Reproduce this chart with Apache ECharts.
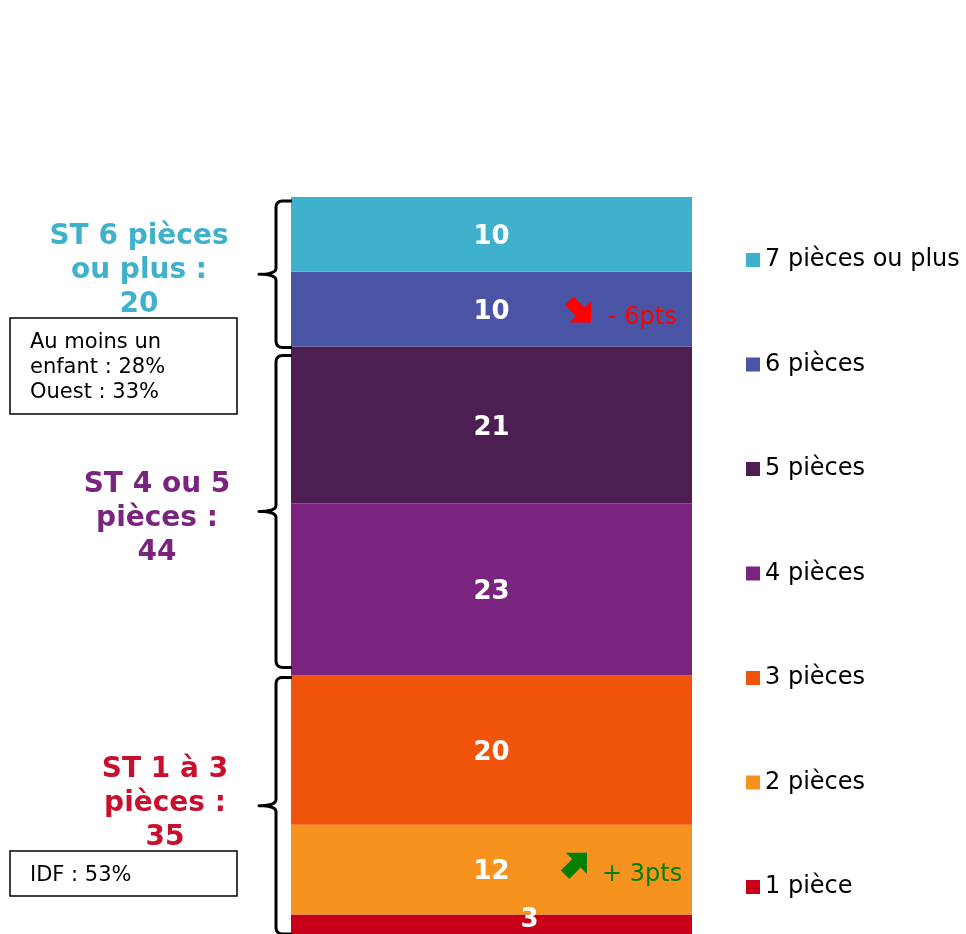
<!DOCTYPE html>
<html>
<head>
<meta charset="utf-8">
<script src="https://cdn.jsdelivr.net/npm/echarts@6/dist/echarts.min.js"></script>
<style>
  html, body { margin: 0; padding: 0; background: #fff; }
  #chart { width: 966px; height: 934px; }
</style>
</head>
<body>
<div id="chart"></div>
<script>
// données du graphique (empilé, du bas vers le haut)
const categories = ['Total'];
const seriesNames = ['1 pièce', '2 pièces', '3 pièces', '4 pièces', '5 pièces', '6 pièces', '7 pièces ou plus'];
const values = [3, 12, 20, 23, 21, 10, 10];
const colors = ['#c9001a', '#f6921e', '#f0540a', '#7a247f', '#4c1e51', '#4955a4', '#3fb1cc'];

// sous-totaux
const groupLabels = ['ST 1 à 3\npièces :\n35', 'ST 4 ou 5\npièces :\n44', 'ST 6 pièces\nou plus :\n20'];
const groupColors = ['#c8102e', '#7a247f', '#3fb1cc'];
const groupRanges = [[0, 3], [3, 5], [5, 7]]; // indices des séries

// évolutions
const evolutions = [
  { serie: 5, text: '- 6pts', color: '#ff0000', dir: 'down' },
  { serie: 1, text: '+ 3pts', color: '#008000', dir: 'up' }
];

// encadrés
const notes = [
  { serie: 6, lines: ['Au moins un', 'enfant : 28%', 'Ouest : 33%'] },
  { serie: 0, lines: ['IDF : 53%'] }
];

const font = "'DejaVu Sans', Verdana, sans-serif";
const myChart = echarts.init(document.getElementById('chart'));

const series = seriesNames.map((name, i) => ({
  name: name,
  type: 'bar',
  stack: 'total',
  barWidth: '100%',
  data: [values[i]],
  itemStyle: { color: colors[i] },
  label: {
    show: true,
    position: 'inside',
    color: '#fff',
    fontFamily: font,
    fontWeight: 'bold',
    fontSize: 26,
    offset: i === 0 ? [38, -4] : [0, 3]
  }
}));

// le bas de la barre est coupé par le cadre de l'image
const option = {
  animation: false,
  grid: { left: 291, width: 401, top: 197, bottom: 0 },
  xAxis: { type: 'category', data: categories, show: false },
  yAxis: { type: 'value', min: 0.4, max: 99, show: false },
  legend: {
    orient: 'vertical',
    left: 741,
    top: 243,
    itemWidth: 14,
    itemHeight: 14,
    itemGap: 80.5,
    icon: 'rect',
    selectedMode: false,
    data: seriesNames.slice().reverse(),
    textStyle: { fontFamily: font, fontSize: 24, lineHeight: 24, color: '#000' }
  },
  series: series
};
myChart.setOption(option);

// annotations : accolades, textes, flèches
const cum = [0];
values.forEach(v => cum.push(cum[cum.length - 1] + v));
const yPix = v => myChart.convertToPixel({ yAxisIndex: 0 }, v);
const xr = 292, xv = 276, xt = 259;

const graphics = [];

// courbe quadratique échantillonnée
function quad(p0, p1, p2, out) {
  for (let k = 1; k <= 8; k++) {
    const t = k / 8, u = 1 - t;
    out.push([u * u * p0[0] + 2 * u * t * p1[0] + t * t * p2[0],
              u * u * p0[1] + 2 * u * t * p1[1] + t * t * p2[1]]);
  }
}
function bracePoints(top, bot) {
  const mid = (top + bot) / 2;
  const pts = [[xr, top], [xv + 7, top]];
  quad([xv + 7, top], [xv, top], [xv, top + 7], pts);
  pts.push([xv, mid - 6]);
  quad([xv, mid - 6], [xv, mid], [xt, mid], pts);
  quad([xt, mid], [xv, mid], [xv, mid + 6], pts);
  pts.push([xv, bot - 7]);
  quad([xv, bot - 7], [xv, bot], [xv + 7, bot], pts);
  pts.push([xr, bot]);
  return pts;
}

// [retrait bas, retrait haut] de chaque accolade
const insets = [[3, 2], [8, 9], [-1, 4]];
const labelX = [165, 157, 139];
const labelDy = [-2, 7, -3.5];
groupRanges.forEach((r, g) => {
  const top = yPix(cum[r[1]]) + insets[g][1];
  const bot = yPix(cum[r[0]]) - insets[g][0];
  graphics.push({
    type: 'polyline',
    z: 100,
    shape: { points: bracePoints(top, bot) },
    style: { fill: null, stroke: '#000', lineWidth: 3, lineJoin: 'round' }
  });
  const mid = (top + bot) / 2;
  graphics.push({
    type: 'text',
    z: 100,
    x: labelX[g],
    y: mid + labelDy[g],
    style: {
      text: groupLabels[g],
      fill: groupColors[g],
      font: 'bold 28px ' + font,
      lineHeight: 34,
      align: 'center',
      verticalAlign: 'middle'
    }
  });
});

// encadrés
const boxPos = { 6: { y: 318, h: 96 }, 0: { y: 851, h: 45 } };
notes.forEach(n => {
  const b = boxPos[n.serie];
  graphics.push({
    type: 'rect',
    z: 100,
    shape: { x: 10, y: b.y, width: 227, height: b.h },
    style: { fill: '#fff', stroke: '#000', lineWidth: 1.5 }
  });
  graphics.push({
    type: 'text',
    z: 101,
    x: 30,
    y: b.y + b.h / 2 + 2,
    style: {
      text: n.lines.join('\n'),
      fill: '#000',
      font: '21px ' + font,
      lineHeight: 25,
      verticalAlign: 'middle'
    }
  });
});

// flèches d'évolution (pointe à l'origine, orientée vers +x)
function arrowPoints(tx, ty, angle) {
  const base = [[0, 0], [-15, 15], [-15, 6], [-31, 6], [-31, -6], [-15, -6], [-15, -15]];
  const c = Math.cos(angle), s = Math.sin(angle);
  return base.map(p => [tx + p[0] * c - p[1] * s, ty + p[0] * s + p[1] * c]);
}
evolutions.forEach(e => {
  const yc = (yPix(cum[e.serie]) + yPix(cum[e.serie + 1])) / 2;
  const down = e.dir === 'down';
  const pts = down
    ? arrowPoints(591, yc + 13.5, Math.PI / 4)
    : arrowPoints(587, yc - 17, -Math.PI / 4);
  graphics.push({
    type: 'polygon',
    z: 100,
    shape: { points: pts },
    style: { fill: e.color }
  });
  graphics.push({
    type: 'text',
    z: 100,
    x: down ? 608 : 602,
    y: down ? yc + 8.5 : yc + 5,
    style: {
      text: e.text,
      fill: e.color,
      font: '24px ' + font,
      verticalAlign: 'middle'
    }
  });
});

myChart.setOption({ graphic: graphics });

window.onresize = () => {
  myChart.resize();
};
</script>
</body>
</html>
